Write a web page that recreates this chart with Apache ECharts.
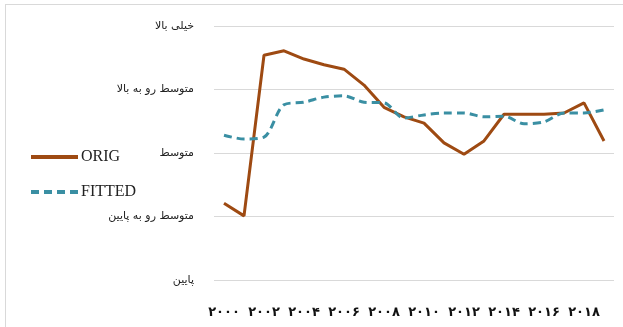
<!DOCTYPE html>
<html>
<head>
<meta charset="utf-8">
<script src="https://cdn.jsdelivr.net/npm/echarts@6/dist/echarts.min.js"></script>
<style>
  html, body { margin: 0; padding: 0; background: #fff; }
  #frame { position: absolute; left: 5px; top: 4px; width: 640px; height: 340px; border: 1px solid #d9d9d9; box-sizing: border-box; }
  #chart { width: 623px; height: 327px; }
</style>
</head>
<body>
<div id="frame"></div>
<div id="chart"></div>
<script>
// Years 2000..2019, labelled every second year in Persian digits
const years = ['۲۰۰۰','۲۰۰۱','۲۰۰۲','۲۰۰۳','۲۰۰۴','۲۰۰۵','۲۰۰۶','۲۰۰۷','۲۰۰۸','۲۰۰۹',
               '۲۰۱۰','۲۰۱۱','۲۰۱۲','۲۰۱۳','۲۰۱۴','۲۰۱۵','۲۰۱۶','۲۰۱۷','۲۰۱۸','۲۰۱۹'];

// Level scale 0..4, bottom to top
const levelLabels = ['پایین', 'متوسط رو به پایین', 'متوسط', 'متوسط رو به بالا', 'خیلی بالا'];

const origValues = [1.21, 1.01, 3.54, 3.61, 3.48, 3.39, 3.32, 3.07, 2.72, 2.57,
                    2.47, 2.16, 1.98, 2.19, 2.61, 2.61, 2.61, 2.63, 2.79, 2.19];

const fittedValues = [2.28, 2.22, 2.25, 2.76, 2.80, 2.88, 2.90, 2.80, 2.79, 2.55,
                      2.60, 2.63, 2.63, 2.57, 2.58, 2.46, 2.49, 2.63, 2.63, 2.68];

const origColor = '#9e4a12';
const fittedColor = '#3a8fa3';

const chart = echarts.init(document.getElementById('chart'), null, { renderer: 'canvas' });
chart.setOption({
  animation: false,
  backgroundColor: 'transparent',
  grid: { left: 214, right: 9, top: 26, bottom: 47 },
  legend: {
    orient: 'vertical',
    left: 24,
    top: 144,
    itemWidth: 47,
    itemHeight: 14,
    itemGap: 19,
    itemStyle: { opacity: 0 },
    lineStyle: { width: 4 },
    textStyle: { fontFamily: 'Liberation Serif', fontSize: 16, color: '#222', padding: [0, 0, 0, -2] },
    data: ['ORIG', 'FITTED']
  },
  xAxis: {
    type: 'category',
    data: years,
    boundaryGap: true,
    axisLine: { show: false },
    axisTick: { show: false },
    axisLabel: {
      interval: 1,
      margin: 26,
      fontFamily: 'DejaVu Sans',
      fontWeight: 'bold',
      fontSize: 13,
      color: '#111'
    }
  },
  yAxis: {
    type: 'value',
    min: 0,
    max: 4,
    interval: 1,
    axisLine: { show: false },
    axisTick: { show: false },
    splitLine: { lineStyle: { color: '#d9d9d9', width: 1 } },
    axisLabel: {
      margin: 20,
      fontFamily: 'DejaVu Sans',
      fontSize: 11,
      color: '#222',
      formatter: v => levelLabels[v] || ''
    }
  },
  series: [
    {
      name: 'ORIG',
      type: 'line',
      data: origValues,
      symbol: 'none',
      color: origColor,
      lineStyle: { color: origColor, width: 3 }
    },
    {
      name: 'FITTED',
      type: 'line',
      data: fittedValues,
      symbol: 'none',
      smooth: 0.3,
      color: fittedColor,
      lineStyle: { color: fittedColor, width: 3, type: [8, 5] }
    }
  ]
});
</script>
</body>
</html>
